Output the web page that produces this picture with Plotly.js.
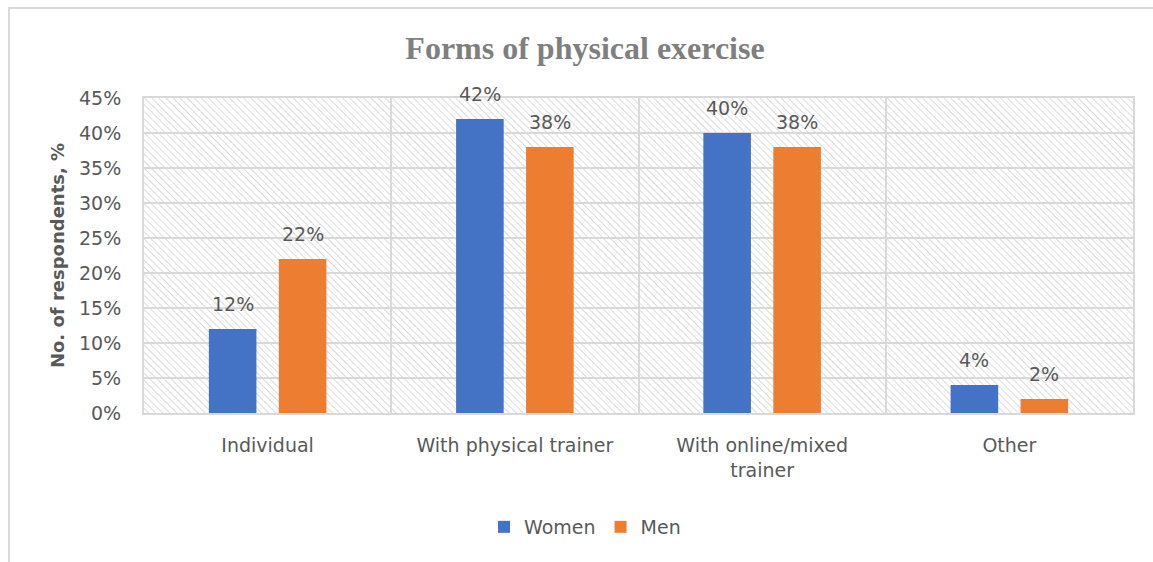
<!DOCTYPE html>
<html>
<head>
<meta charset="utf-8">
<script src="https://cdn.plot.ly/plotly-3.0.1.min.js"></script>
<style>html,body{margin:0;padding:0;background:#fff;}#chart{width:1153px;height:562px;}</style>
</head>
<body>
<div id="chart"></div>
<script>
const categories = ["Individual", "With physical trainer", "With online/mixed<br>trainer", "Other"];
const women = [0.12, 0.42, 0.40, 0.04];
const men = [0.22, 0.38, 0.38, 0.02];
const seriesNames = ["Women", "Men"];

const W = 1153, H = 562;
const M = {l: 144, r: 20, t: 98, b: 149};
const pw = W - M.l - M.r, ph = H - M.t - M.b;
const BARGAP = 0.434, GROUPGAP = 0.32;
const catW = pw / categories.length;
const slot = (1 - BARGAP) * catW / 2;

const svg = `<svg xmlns="http://www.w3.org/2000/svg" width="${pw}" height="${ph}" viewBox="0 0 ${pw} ${ph}" preserveAspectRatio="none">
<defs><pattern id="p" width="5" height="5" patternUnits="userSpaceOnUse" patternTransform="rotate(-45)">
<line x1="0" y1="0" x2="0" y2="5" stroke="#d4d4d4" stroke-width="1.6"/></pattern></defs>
<rect x="0" y="0" width="${pw}" height="${ph}" fill="#ffffff"/>
<rect x="0" y="0" width="${pw}" height="${ph}" fill="url(#p)"/></svg>`;

const FAM = "DejaVu Sans, Noto Sans, sans-serif";
const FS = 19;
const lblFont = {family: FAM, size: FS, color: "#595959"};

const traces = [
  {type: "bar", name: seriesNames[0], x: categories, y: women,
   marker: {color: "#4472C4"}, hoverinfo: "skip"},
  {type: "bar", name: seriesNames[1], x: categories, y: men,
   marker: {color: "#ED7D31"}, hoverinfo: "skip"}
];

const annotations = [];
[women, men].forEach((vals, s) => {
  vals.forEach((v, i) => {
    annotations.push({x: categories[i], y: v, xref: "x", yref: "y", text: Math.round(v * 100) + "%",
      showarrow: false, xanchor: "center", yanchor: "bottom", yshift: 12,
      xshift: (s === 0 ? -1 : 1) * slot / 2, font: lblFont});
  });
});

const layout = {
  width: W, height: H,
  margin: M,
  paper_bgcolor: "#ffffff",
  plot_bgcolor: "rgba(0,0,0,0)",
  barmode: "group",
  bargap: BARGAP,
  bargroupgap: GROUPGAP,
  showlegend: true,
  title: {text: "<b>Forms of physical exercise</b>", x: 585/W, xref: "container", xanchor: "center",
          y: 1 - 48/H, yref: "container", yanchor: "middle",
          font: {family: "Liberation Serif, Times New Roman, serif", size: 32, color: "#7f7f7f"}},
  xaxis: {type: "category", tickson: "boundaries", showgrid: true, gridcolor: "#d9d9d9", gridwidth: 2,
          showline: true, linecolor: "#d9d9d9", linewidth: 2, mirror: true, ticks: "",
          tickfont: {family: FAM, size: FS, color: "#595959"},
          ticklabelstandoff: 14, zeroline: false, fixedrange: true},
  yaxis: {range: [0, 0.45], dtick: 0.05, tick0: 0, tickformat: ".0%", showgrid: true, gridcolor: "#d9d9d9", gridwidth: 2,
          showline: true, linecolor: "#d9d9d9", linewidth: 2, mirror: true, ticks: "", zeroline: false,
          tickfont: {family: FAM, size: FS, color: "#595959"},
          ticklabelstandoff: 17,
          title: {text: "<b>No. of respondents, %</b>", standoff: 10,
                  font: {family: FAM, size: 18, color: "#595959"}}},
  legend: {orientation: "h", x: (585 - M.l)/pw, xanchor: "center", y: -(527 - (H - M.b)) / ph, yanchor: "middle",
           font: {family: FAM, size: FS, color: "#595959"}, itemwidth: 30, traceorder: "normal"},
  annotations: annotations,
  images: [{source: "data:image/svg+xml;charset=utf-8," + encodeURIComponent(svg),
            xref: "paper", yref: "paper", x: 0, y: 1, sizex: 1, sizey: 1, sizing: "stretch",
            xanchor: "left", yanchor: "top", layer: "below"}],
  shapes: [{type: "rect", xref: "paper", yref: "paper",
            x0: (9 - M.l)/pw, x1: (W + 20 - M.l)/pw, y0: -(H + 20 - (H - M.b))/ph, y1: (H - M.b - 8)/ph,
            line: {color: "#d9d9d9", width: 2}, fillcolor: "rgba(0,0,0,0)", layer: "below"}]
};

Plotly.newPlot("chart", traces, layout, {displayModeBar: false, staticPlot: true});
</script>
</body>
</html>
